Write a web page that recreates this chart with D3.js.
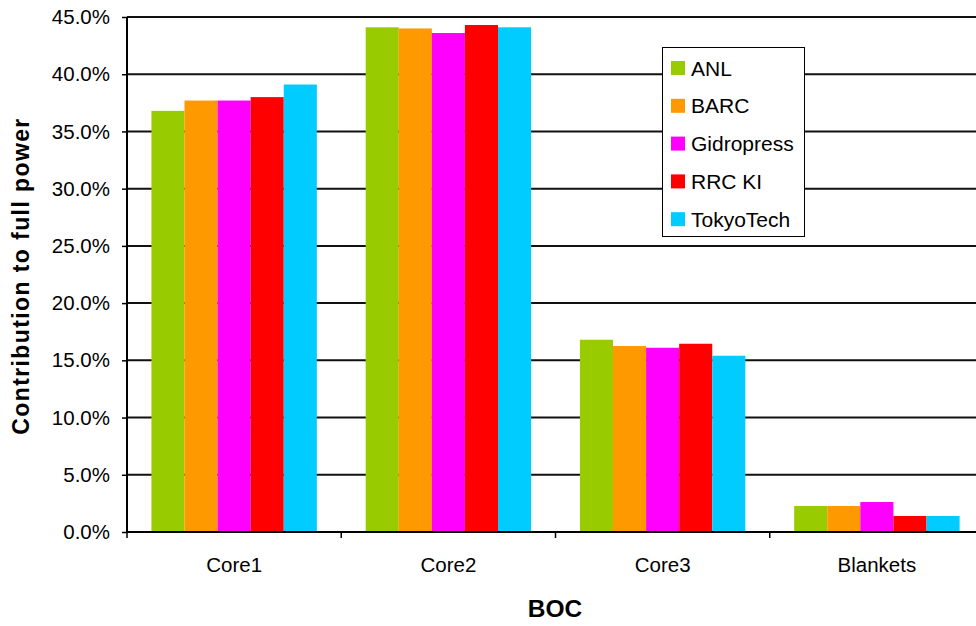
<!DOCTYPE html>
<html>
<head>
<meta charset="utf-8">
<script src="https://cdn.jsdelivr.net/npm/d3@7"></script>
<style>
  html, body { margin: 0; padding: 0; background: #fff; }
  svg { display: block; font-family: "Liberation Sans", Arial, sans-serif; }
</style>
</head>
<body>
<svg id="chart" width="976" height="626"></svg>
<script>
// Power contribution per zone at BOC, by participant
const categories = ["Core1", "Core2", "Core3", "Blankets"];
const seriesNames = ["ANL", "BARC", "Gidropress", "RRC KI", "TokyoTech"];
const seriesColors = ["#99CC00", "#FF9900", "#FF00FF", "#FF0000", "#00CCFF"];
const anl        = [0.368, 0.441, 0.168, 0.0227];
const barc       = [0.377, 0.440, 0.1625, 0.0227];
const gidropress = [0.377, 0.436, 0.161, 0.0262];
const rrcki      = [0.380, 0.443, 0.1645, 0.0140];
const tokyotech  = [0.391, 0.441, 0.154, 0.0140];
const yTicks = [0, 0.05, 0.10, 0.15, 0.20, 0.25, 0.30, 0.35, 0.40, 0.45];

const seriesValues = [anl, barc, gidropress, rrcki, tokyotech];

const svg = d3.select("#chart");
const plotLeft = 127, plotRight = 984, plotTop = 17, plotBottom = 532;

const x0 = d3.scaleBand().domain(categories).range([plotLeft, plotRight]).paddingInner(0.228).paddingOuter(0.114);
const x1 = d3.scaleBand().domain(seriesNames).range([0, x0.bandwidth()]);
const y = d3.scaleLinear().domain([0, 0.45]).range([plotBottom, plotTop]);
const color = d3.scaleOrdinal().domain(seriesNames).range(seriesColors);

// horizontal gridlines
svg.append("g")
  .selectAll("line")
  .data(yTicks.filter(d => d > 0))
  .join("line")
  .attr("x1", plotLeft).attr("x2", 976)
  .attr("y1", d => y(d)).attr("y2", d => y(d))
  .attr("stroke", "#111").attr("stroke-width", 2);

// bars
const groups = svg.append("g")
  .selectAll("g")
  .data(categories)
  .join("g")
  .attr("transform", c => `translate(${x0(c)},0)`);

groups.selectAll("rect")
  .data((c, ci) => seriesNames.map((s, si) => ({ s, v: seriesValues[si][ci] })))
  .join("rect")
  .attr("x", d => x1(d.s))
  .attr("width", x1.bandwidth())
  .attr("y", d => y(d.v))
  .attr("height", d => y(0) - y(d.v))
  .attr("fill", d => color(d.s));

// y axis
const yAxis = d3.axisLeft(y).tickValues(yTicks).tickFormat(d3.format(".1%")).tickSize(5).tickPadding(12);
const gy = svg.append("g").attr("transform", `translate(${plotLeft},0)`).call(yAxis);
gy.select(".domain").attr("stroke", "#000").attr("stroke-width", 2).attr("d", `M0,${plotTop}V${plotBottom}`);
gy.selectAll(".tick line").attr("stroke", "#000").attr("stroke-width", 1.5);
gy.selectAll(".tick text").attr("font-size", 20.5).attr("fill", "#000").attr("font-family", "Liberation Sans, Arial, sans-serif");

// x axis: ticks at category boundaries
const xAxisG = svg.append("g");
xAxisG.append("line")
  .attr("x1", plotLeft).attr("x2", 976).attr("y1", plotBottom).attr("y2", plotBottom)
  .attr("stroke", "#000").attr("stroke-width", 2);
const bounds = categories.map(c => x0(c) - x0.step() * x0.paddingOuter());
xAxisG.selectAll("line.tk")
  .data(bounds)
  .join("line").attr("class", "tk")
  .attr("x1", d => d).attr("x2", d => d)
  .attr("y1", plotBottom).attr("y2", plotBottom + 6)
  .attr("stroke", "#000").attr("stroke-width", 1.5);
xAxisG.selectAll("text")
  .data(categories)
  .join("text")
  .attr("x", c => x0(c) + x0.bandwidth() / 2)
  .attr("y", 572)
  .attr("text-anchor", "middle")
  .attr("font-size", 20.5)
  .attr("fill", "#000")
  .text(c => c);

// axis titles
svg.append("text")
  .attr("transform", "translate(29,276) rotate(-90)")
  .attr("text-anchor", "middle")
  .attr("font-size", 23)
  .attr("letter-spacing", 1.4)
  .attr("font-weight", "bold")
  .text("Contribution to full power");

svg.append("text")
  .attr("x", 555).attr("y", 617)
  .attr("text-anchor", "middle")
  .attr("font-size", 24.5)
  .attr("font-weight", "bold")
  .text("BOC");

// legend
const legend = svg.append("g");
legend.append("rect")
  .attr("x", 662.5).attr("y", 47.5).attr("width", 142).attr("height", 189)
  .attr("fill", "#fff").attr("stroke", "#000").attr("stroke-width", 1);
const items = legend.selectAll("g.item")
  .data(seriesNames)
  .join("g").attr("class", "item")
  .attr("transform", (d, i) => `translate(671,${61 + i * 37.8})`);
items.append("rect").attr("width", 14).attr("height", 14).attr("fill", d => color(d));
items.append("text")
  .attr("x", 20).attr("y", 14.5)
  .attr("font-size", 21)
  .attr("fill", "#000")
  .text(d => d);
</script>
</body>
</html>
